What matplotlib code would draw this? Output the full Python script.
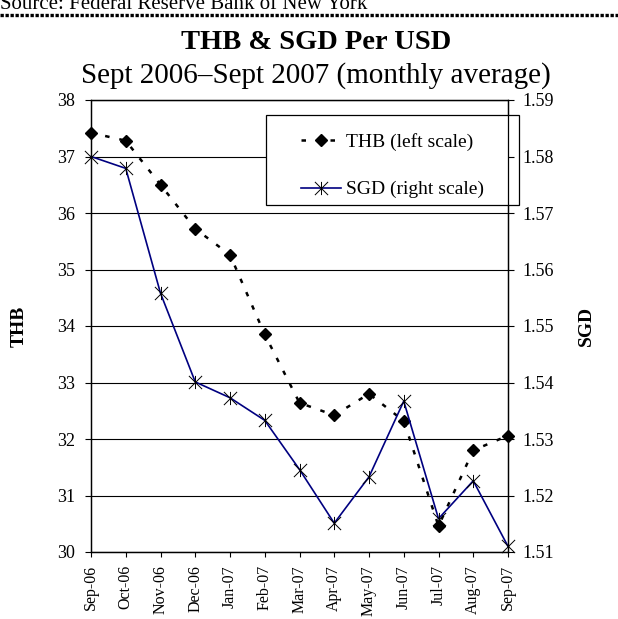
import matplotlib
matplotlib.use("Agg")
import matplotlib.pyplot as plt
from matplotlib.path import Path
from matplotlib.lines import Line2D
from matplotlib.patches import Rectangle, Shadow

plt.rcParams['font.family'] = ['Liberation Serif', 'DejaVu Serif']

# monthly averages, Sep 2006 - Sep 2007
months = ["Sep-06", "Oct-06", "Nov-06", "Dec-06", "Jan-07", "Feb-07", "Mar-07",
          "Apr-07", "May-07", "Jun-07", "Jul-07", "Aug-07", "Sep-07"]
thb = [37.42, 37.28, 36.50, 35.72, 35.26, 33.85, 32.64,
       32.42, 32.80, 32.32, 30.46, 31.80, 32.06]
sgd = [1.5800, 1.5779, 1.5558, 1.5401, 1.5373, 1.5333, 1.5246,
       1.5151, 1.5233, 1.5367, 1.5159, 1.5226, 1.5110]
thb_ticks = [30, 31, 32, 33, 34, 35, 36, 37, 38]
sgd_ticks = [1.51, 1.52, 1.53, 1.54, 1.55, 1.56, 1.57, 1.58, 1.59]

# excel style star marker: X with a vertical bar
star = Path([(-1, -1), (1, 1), (-1, 1), (1, -1), (0, -1), (0, 1)],
            [Path.MOVETO, Path.LINETO] * 3)

fig = plt.figure(figsize=(6.18, 6.19), dpi=100)
ax = fig.add_axes([91 / 618, 1 - 552 / 619, 417 / 618, 452 / 619])
ax2 = ax.twinx()

x = list(range(len(months)))
l1, = ax.plot(x, thb, color='black', lw=1.8, dashes=(1.8, 4), marker='D', ms=6.5,
              label='THB (left scale)', clip_on=False, zorder=3)
l2, = ax2.plot(x, sgd, color='#000080', lw=1.2, marker=star, ms=9.5, mec='black',
               mew=0.7, label='SGD (right scale)', clip_on=False)

ax.set_xlim(0, len(months) - 1)
ax.set_ylim(thb_ticks[0], thb_ticks[-1])
ax2.set_ylim(sgd_ticks[0], sgd_ticks[-1])
ax.set_yticks(thb_ticks)
ax2.set_yticks(sgd_ticks)
ax2.set_yticklabels([f"{v:.2f}" for v in sgd_ticks])
ax.set_xticks(x)
ax.set_xticklabels(months, rotation=90, fontsize=11.5)

ax.yaxis.grid(True, color='black', lw=0.8)
ax.set_axisbelow(True)
for a in (ax, ax2):
    for s in a.spines.values():
        s.set_linewidth(0.9)
ax.tick_params(axis='y', direction='out', length=4.5, width=0.8, pad=7, labelsize=13)
ax.tick_params(axis='x', direction='out', length=3.5, width=0.8, pad=6)
ax2.tick_params(axis='y', direction='out', length=4.5, width=0.8, pad=6, labelsize=13)

ax.set_ylabel('THB', fontweight='bold', fontsize=14)
ax.yaxis.set_label_coords(-0.153, 0.5)
ax2.set_ylabel('SGD', fontweight='bold', fontsize=14)
ax2.yaxis.set_label_coords(1.168, 0.5)

# legend box with drop shadow (covers the grid, not the right axis)
box = Rectangle((0.4197, 0.7677), 0.6067, 0.1991, transform=ax.transAxes,
                facecolor='white', edgecolor='black', lw=0.9, clip_on=False, zorder=3)
shadow = Shadow(box, 1.2, -1.2, facecolor='0.5', edgecolor='0.5', alpha=1)
shadow.set_zorder(2.9)
shadow.set_clip_on(False)
ax.add_patch(shadow)
ax.add_patch(box)
ax2.legend([l1, l2], [l1.get_label(), l2.get_label()], loc='center',
           bbox_to_anchor=(0.723, 0.855), frameon=False, fontsize=14,
           handlelength=2.1, handletextpad=0.25, labelspacing=1.55, borderaxespad=0)

fig.text(0.511, 1 - 49 / 619, 'THB & SGD Per USD', ha='center', va='baseline',
         fontsize=20.5, fontweight='bold')
fig.text(0.511, 1 - 83 / 619, 'Sept 2006\u2013Sept 2007 (monthly average)',
         ha='center', va='baseline', fontsize=21)
fig.text(0.0, 1 - 9 / 619, 'Source: Federal Reserve Bank of New York',
         ha='left', va='baseline', fontsize=15)
fig.add_artist(Line2D([0, 1], [1 - 14.5 / 619] * 2, transform=fig.transFigure,
                      color='black', lw=2.4, dashes=(1.0, 0.5), dash_capstyle='butt'))

fig.savefig('out.png', dpi=100)
